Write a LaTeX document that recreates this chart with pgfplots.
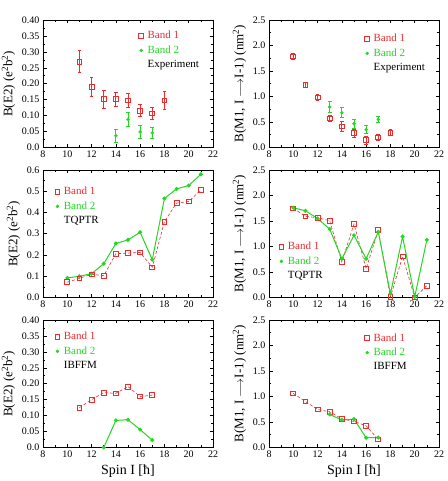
\documentclass[border=0pt]{standalone}
\usepackage{fontspec}
\setmainfont{Liberation Serif}
\usepackage{pgfplots}
\pgfplotsset{compat=1.18}
\usepgfplotslibrary{groupplots}

\definecolor{bandone}{RGB}{235,45,45}
\definecolor{bandtwo}{RGB}{35,215,35}

\pgfplotsset{
  spinaxis/.style={
    width=170pt, height=127.5pt, scale only axis,
    xmin=8, xmax=22, xtick={8,10,...,22}, minor x tick num=1,
    minor y tick num=1, ymin=0,
    tick align=inside,
    major tick length=3.5pt, minor tick length=2pt,
    tick style={black, line width=0.6pt},
    axis line style={line width=0.8pt},
    tick label style={font=\fontsize{10}{12}\selectfont},
    /pgf/number format/assume math mode=true,
    label style={font=\fontsize{13}{15}\selectfont},
    xlabel style={font=\fontsize{14}{16}\selectfont},
    legend style={draw=none, fill=none, anchor=north west,
      font=\fontsize{11}{13}\selectfont, row sep=3.5pt,
      nodes={inner sep=1pt},
      /tikz/every odd column/.append style={column sep=3pt}},
    legend cell align=left,
    legend image code/.code={\draw[#1] plot coordinates {(0pt,0pt)};},
  },
  e2exp/.style={ymax=0.40, ytick={0,0.05,...,0.40},
    yticklabels={0.0,0.05,0.10,0.15,0.20,0.25,0.30,0.35,0.40},
    ylabel={B(E2) (e\textsuperscript{2}b\textsuperscript{2})}},
  m1/.style={ymax=2.5, ytick={0,0.5,...,2.5},
    yticklabel style={/pgf/number format/.cd, fixed, fixed zerofill, precision=1},
    ylabel={B(M1, I $\longrightarrow$I-1) (nm\textsuperscript{2})}},
  bone/.style={bandone, mark=square, mark size=2.4pt,
    mark options={solid, line width=0.8pt, fill=none}},
  btwo/.style={bandtwo, mark=*, mark size=1.5pt, mark options={solid}},
  bonelegend/.style={bone, only marks},
  btwolegend/.style={btwo, only marks},
  textonly/.style={draw=none, mark=none},
  experr/.style={only marks,
    error bars/y dir=both, error bars/y explicit,
    error bars/error bar style={line width=0.9pt, solid},
    error bars/error mark options={rotate=90, mark size=1.8pt, line width=0.9pt}},
}

\begin{document}
\begin{tikzpicture}
\begin{groupplot}[
  group style={group size=2 by 3, horizontal sep=56pt, vertical sep=22.5pt},
  spinaxis]

% ---- Experiment, B(E2)
\nextgroupplot[e2exp, legend style={at={(0.545,0.937)}}]
\addlegendimage{bonelegend}\addlegendentry{\textcolor{bandone}{Band 1}}
\addlegendimage{btwolegend}\addlegendentry{\textcolor{bandtwo}{Band 2}}
\addlegendimage{textonly}\addlegendentry{Experiment}
\addplot[bone, experr, forget plot] coordinates {
  (11,0.269) +- (0,0.034)
  (12,0.189) +- (0,0.030)
  (13,0.152) +- (0,0.028)
  (14,0.152) +- (0,0.022)
  (15,0.148) +- (0,0.022)
  (16,0.116) +- (0,0.019)
  (17,0.107) +- (0,0.020)
  (18,0.148) +- (0,0.028)
};
\addplot[btwo, experr, forget plot] coordinates {
  (14,0.037) +- (0,0.021)
  (15,0.088) +- (0,0.023)
  (16,0.049) +- (0,0.020)
  (17,0.046) +- (0,0.018)
};

% ---- Experiment, B(M1)
\nextgroupplot[m1, legend style={at={(0.545,0.914)}}]
\addlegendimage{bonelegend}\addlegendentry{\textcolor{bandone}{Band 1}}
\addlegendimage{btwolegend}\addlegendentry{\textcolor{bandtwo}{Band 2}}
\addlegendimage{textonly}\addlegendentry{Experiment}
\addplot[bone, experr, forget plot] coordinates {
  (10,1.785) +- (0,0.05)
  (11,1.234) +- (0,0.05)
  (12,0.984) +- (0,0.06)
  (13,0.571) +- (0,0.06)
  (14,0.413) +- (0,0.09)
  (15,0.282) +- (0,0.08)
  (16,0.144) +- (0,0.08)
  (17,0.197) +- (0,0.06)
  (18,0.289) +- (0,0.06)
};
\addplot[btwo, experr, forget plot] coordinates {
  (13,0.794) +- (0,0.10)
  (14,0.682) +- (0,0.10)
  (15,0.466) +- (0,0.09)
  (16,0.348) +- (0,0.08)
  (17,0.551) +- (0,0.06)
};

% ---- TQPTR, B(E2)
\nextgroupplot[ymax=0.6, ytick={0,0.1,...,0.6},
  yticklabel style={/pgf/number format/.cd, fixed, fixed zerofill, precision=1},
  ylabel={B(E2) (e\textsuperscript{2}b\textsuperscript{2})},
  legend style={at={(0.052,0.89)}}]
\addlegendimage{bonelegend}\addlegendentry{\textcolor{bandone}{Band 1}}
\addlegendimage{btwolegend}\addlegendentry{\textcolor{bandtwo}{Band 2}}
\addlegendimage{textonly}\addlegendentry{TQPTR}
\addplot[btwo, line width=1pt, forget plot] coordinates {
  (10,0.092) (11,0.100) (12,0.112) (13,0.159) (14,0.254) (15,0.271)
  (16,0.307) (17,0.178) (18,0.466) (19,0.511) (20,0.527) (21,0.580)
};
\addplot[bone, densely dashed, line width=0.6pt, forget plot] coordinates {
  (10,0.072) (11,0.090) (12,0.109) (13,0.103) (14,0.206) (15,0.209)
  (16,0.212) (17,0.142) (18,0.357) (19,0.444) (20,0.452) (21,0.506)
};

% ---- TQPTR, B(M1)
\nextgroupplot[m1, legend style={at={(0.04,0.459)}}]
\addlegendimage{bonelegend}\addlegendentry{\textcolor{bandone}{Band 1}}
\addlegendimage{btwolegend}\addlegendentry{\textcolor{bandtwo}{Band 2}}
\addlegendimage{textonly}\addlegendentry{TQPTR}
\addplot[bone, densely dashed, line width=0.6pt, forget plot] coordinates {
  (10,1.747) (11,1.591) (12,1.565) (13,1.506) (14,0.695) (15,1.441)
  (16,0.565) (17,1.318) (18,0.013) (19,0.805) (20,0.000) (21,0.234)
};
\addplot[btwo, line width=1pt, forget plot] coordinates {
  (10,1.760) (11,1.700) (12,1.550) (13,1.340) (14,0.760) (15,1.220)
  (16,0.760) (17,1.286) (18,0.071) (19,1.195) (20,0.013) (21,1.130)
};

% ---- IBFFM, B(E2)
\nextgroupplot[e2exp, xlabel={Spin I [ħ]}, legend style={at={(0.052,0.93)}}]
\addlegendimage{bonelegend}\addlegendentry{\textcolor{bandone}{Band 1}}
\addlegendimage{btwolegend}\addlegendentry{\textcolor{bandtwo}{Band 2}}
\addlegendimage{textonly}\addlegendentry{IBFFM}
\addplot[bone, densely dashed, line width=0.6pt, forget plot] coordinates {
  (11,0.125) (12,0.150) (13,0.172) (14,0.170) (15,0.191) (16,0.160) (17,0.164)
};
\addplot[btwo, line width=1pt, forget plot] coordinates {
  (13,0.000) (14,0.085) (15,0.087) (16,0.056) (17,0.023)
};

% ---- IBFFM, B(M1)
\nextgroupplot[m1, xlabel={Spin I [ħ]}, legend style={at={(0.545,0.92)}}]
\addlegendimage{bonelegend}\addlegendentry{\textcolor{bandone}{Band 1}}
\addlegendimage{btwolegend}\addlegendentry{\textcolor{bandtwo}{Band 2}}
\addlegendimage{textonly}\addlegendentry{IBFFM}
\addplot[bone, densely dashed, line width=0.6pt, forget plot] coordinates {
  (10,1.060) (11,0.903) (12,0.746) (13,0.700) (14,0.563) (15,0.510)
  (16,0.425) (17,0.157)
};
\addplot[btwo, line width=1pt, forget plot] coordinates {
  (13,0.648) (14,0.540) (15,0.556) (16,0.190) (17,0.196)
};
\end{groupplot}
\pgfresetboundingbox
\path[use as bounding box] (group c1r1.north west) ++(-43pt,20pt) rectangle ++(447pt,-481pt);
\end{tikzpicture}
\end{document}
